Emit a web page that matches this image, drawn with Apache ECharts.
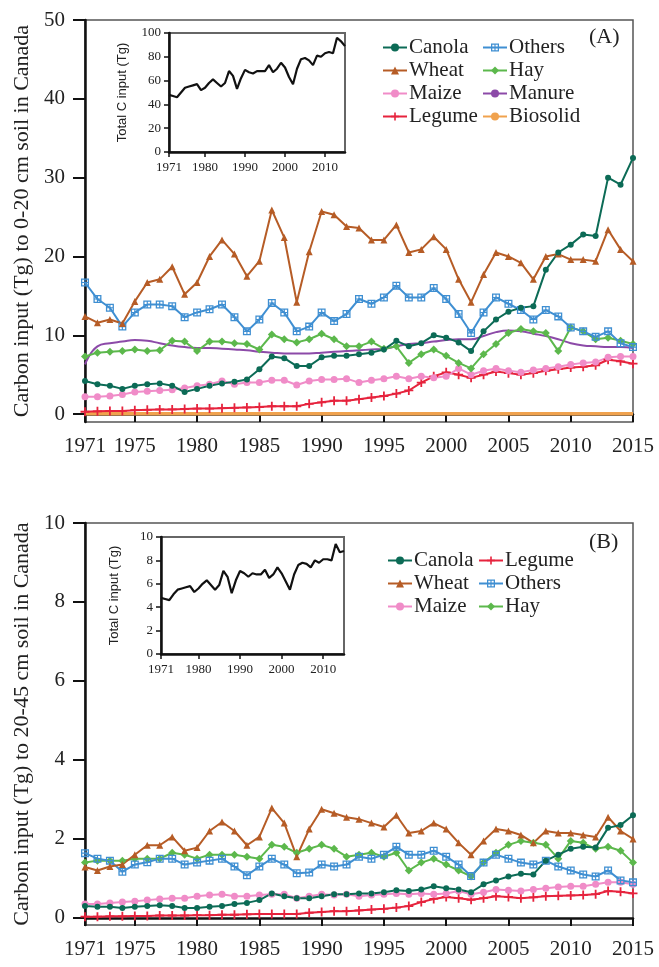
<!DOCTYPE html>
<html>
<head>
<meta charset="utf-8">
<title>Carbon input to Canadian soils</title>
<script src="https://cdn.jsdelivr.net/npm/echarts@6/dist/echarts.min.js"></script>
<style>
  html, body { margin: 0; padding: 0; background: #fff; }
  #chart { width: 659px; height: 967px; }
</style>
</head>
<body>
<div id="chart"></div>
<script>
// Years 1971-2015
const years = [1971,1972,1973,1974,1975,1976,1977,1978,1979,1980,
  1981,1982,1983,1984,1985,1986,1987,1988,1989,1990,
  1991,1992,1993,1994,1995,1996,1997,1998,1999,2000,
  2001,2002,2003,2004,2005,2006,2007,2008,2009,2010,
  2011,2012,2013,2014,2015];

// (A) Carbon input (Tg) to 0-20 cm soil
const canolaA = [4.2,3.8,3.6,3.2,3.6,3.8,3.9,3.6,2.8,3.2,3.6,3.9,4.1,4.4,5.7,7.3,7.1,6.1,6.1,7.2,7.4,7.4,7.6,7.8,8.2,9.3,8.6,9.0,10.0,9.7,9.1,8.0,10.5,12.0,13.0,13.5,13.7,18.3,20.5,21.5,22.8,22.6,30.0,29.1,32.5];
const wheatA = [12.4,11.6,12.0,11.5,14.3,16.7,17.1,18.7,15.2,16.7,20.0,22.1,20.3,17.5,19.4,25.9,22.4,14.2,20.6,25.7,25.3,23.8,23.6,22.1,22.1,24.0,20.5,20.9,22.5,20.9,17.1,14.2,17.7,20.5,20.0,19.2,17.1,20.0,20.3,19.6,19.6,19.4,23.4,20.9,19.4];
const maizeA = [2.2,2.2,2.3,2.5,2.8,2.9,3.0,3.1,3.3,3.6,3.8,4.2,3.8,4.0,4.0,4.3,4.3,3.7,4.2,4.4,4.4,4.5,4.0,4.3,4.5,4.8,4.5,4.8,4.6,4.8,5.8,5.0,5.5,5.8,5.5,5.3,5.6,5.8,6.0,6.3,6.5,6.6,7.2,7.3,7.3];
const legumeA = [0.3,0.35,0.4,0.4,0.5,0.55,0.6,0.6,0.65,0.7,0.7,0.75,0.8,0.85,0.9,1.0,1.0,1.0,1.3,1.5,1.7,1.7,1.9,2.1,2.3,2.6,3.0,4.0,4.8,5.3,5.0,4.6,5.0,5.4,5.2,5.0,5.2,5.5,5.7,5.9,6.0,6.2,6.9,6.7,6.4];
const othersA = [16.7,14.6,13.5,11.1,12.9,13.9,13.9,13.7,12.3,12.9,13.3,13.9,12.3,10.5,12.0,14.1,12.9,10.5,11.1,12.9,11.8,12.7,14.6,14.0,14.8,16.3,14.8,14.8,16.0,14.6,12.7,10.3,12.9,14.8,14.0,13.2,12.0,13.2,12.4,11.0,10.5,9.8,10.5,9.0,8.5];
const hayA = [7.3,7.8,7.9,8.0,8.2,8.0,8.1,9.3,9.2,8.0,9.2,9.2,9.0,8.9,8.2,10.1,9.5,9.1,9.5,10.2,9.5,8.6,8.6,9.2,8.3,8.6,6.5,7.6,8.2,7.4,6.5,5.8,7.6,8.9,10.3,10.8,10.5,10.3,8.0,11.0,10.5,9.5,9.7,9.3,8.9];
const manureA = [6.3,8.6,9.0,9.2,9.4,9.3,9.0,8.7,8.5,8.4,8.4,8.3,8.2,8.1,7.9,7.8,7.7,7.7,7.7,7.8,7.9,8.0,8.1,8.2,8.3,8.6,8.9,9.0,9.2,9.4,9.5,9.5,9.9,10.4,10.6,10.5,10.2,9.9,9.5,9.0,8.7,8.6,8.5,8.5,8.4];
const biosolidA = [0.05,0.05,0.05,0.05,0.05,0.05,0.05,0.05,0.05,0.05,0.05,0.05,0.05,0.05,0.05,0.05,0.05,0.05,0.05,0.05,0.05,0.05,0.05,0.05,0.05,0.05,0.05,0.05,0.05,0.05,0.05,0.05,0.05,0.05,0.05,0.05,0.05,0.05,0.05,0.05,0.05,0.05,0.05,0.05,0.05];
const totalA = [48,47,46,50,54,55,56,57,52,54,58,61,58,55,58,68,64,53,62,69,67,66,68,68,68,73,67,70,75,71,63,57,70,78,79,77,73,81,80,83,84,83,96,93,89];

// (B) Carbon input (Tg) to 20-45 cm soil
const canolaB = [0.3,0.28,0.28,0.25,0.28,0.3,0.32,0.3,0.25,0.25,0.28,0.3,0.35,0.38,0.45,0.62,0.55,0.5,0.5,0.55,0.6,0.6,0.62,0.62,0.65,0.7,0.68,0.72,0.8,0.75,0.72,0.65,0.85,0.95,1.05,1.12,1.1,1.45,1.6,1.75,1.8,1.78,2.28,2.35,2.6];
const wheatB = [1.29,1.2,1.3,1.35,1.6,1.84,1.84,2.05,1.7,1.78,2.2,2.43,2.2,1.84,2.05,2.78,2.4,1.55,2.25,2.75,2.65,2.55,2.5,2.4,2.3,2.6,2.15,2.2,2.4,2.25,1.9,1.6,1.95,2.25,2.2,2.1,1.9,2.2,2.15,2.15,2.1,2.05,2.55,2.2,2.0];
const maizeB = [0.35,0.35,0.38,0.4,0.42,0.45,0.48,0.5,0.5,0.55,0.58,0.6,0.55,0.55,0.58,0.6,0.6,0.5,0.55,0.6,0.58,0.6,0.55,0.58,0.6,0.62,0.6,0.62,0.6,0.62,0.68,0.6,0.65,0.72,0.7,0.68,0.72,0.75,0.78,0.8,0.8,0.85,0.9,0.9,0.85];
const legumeB = [0.03,0.03,0.04,0.04,0.05,0.05,0.06,0.06,0.06,0.07,0.07,0.08,0.08,0.09,0.1,0.1,0.1,0.1,0.13,0.15,0.17,0.17,0.19,0.21,0.23,0.26,0.3,0.4,0.48,0.53,0.5,0.46,0.5,0.55,0.53,0.5,0.52,0.55,0.56,0.57,0.58,0.6,0.68,0.66,0.62];
const othersB = [1.64,1.5,1.45,1.17,1.35,1.41,1.5,1.5,1.35,1.4,1.45,1.5,1.3,1.08,1.3,1.5,1.35,1.13,1.15,1.35,1.3,1.35,1.55,1.5,1.6,1.8,1.6,1.6,1.7,1.55,1.35,1.06,1.4,1.6,1.5,1.4,1.35,1.45,1.3,1.2,1.1,1.05,1.2,0.95,0.9];
const hayB = [1.4,1.45,1.45,1.45,1.5,1.5,1.5,1.65,1.6,1.5,1.6,1.6,1.6,1.55,1.5,1.85,1.8,1.65,1.75,1.85,1.75,1.55,1.6,1.65,1.55,1.65,1.2,1.4,1.5,1.35,1.2,1.05,1.4,1.65,1.85,1.95,1.9,1.85,1.5,1.95,1.9,1.75,1.8,1.7,1.4];
const totalB = [4.8,4.7,4.6,5.1,5.5,5.6,5.7,5.8,5.3,5.6,6.0,6.3,5.9,5.5,5.9,7.1,6.6,5.2,6.3,7.1,6.9,6.6,6.9,6.8,6.8,7.2,6.5,6.8,7.4,6.9,6.2,5.5,6.8,7.6,7.8,7.7,7.4,8.0,7.8,8.1,8.1,8.0,9.4,8.7,8.8];

// Tick labels
const mainYearTicks = [1971,1975,1980,1985,1990,1995,2000,2005,2010,2015];
const insetYearTicks = [1971,1980,1990,2000,2010];
const yTicksA = [0,10,20,30,40,50];
const yTicksB = [0,2,4,6,8,10];
const insetTicksA = [0,20,40,60,80,100];
const insetTicksB = [0,2,4,6,8,10];

const SERIF = 'Liberation Serif';
const SANS = 'Liberation Sans';
const INK = '#222';

const pair = (vals) => years.map((y, i) => [y, vals[i]]);
const plainNumber = (v) => String(v);

// marker shapes
const PLUS = 'path://M4,0H6V4H10V6H6V10H4V6H0V4H4Z';
const BOXCROSS = 'path://M0,0H10V10H0Z M1.6,1.6V4.3H4.3V1.6Z M5.7,1.6V4.3H8.4V1.6Z M1.6,5.7V8.4H4.3V5.7Z M5.7,5.7V8.4H8.4V5.7Z';

const styles = {
  Canola:   { color: '#0c6b56', symbol: 'circle', size: 6 },
  Wheat:    { color: '#b65c26', symbol: 'triangle', size: 7 },
  Maize:    { color: '#f08cc8', symbol: 'circle', size: 7 },
  Legume:   { color: '#e6233d', symbol: PLUS, size: 9 },
  Others:   { color: '#3f8fd2', symbol: BOXCROSS, size: 8 },
  Hay:      { color: '#5cb84c', symbol: 'diamond', size: 8 },
  Manure:   { color: '#8c4aa8', symbol: 'none', size: 0, smooth: true },
  Biosolid: { color: '#f0a24e', symbol: 'none', size: 0, width: 3.5 }
};

function lineSeries(name, vals, gi) {
  const s = styles[name];
  return {
    name, type: 'line', xAxisIndex: gi, yAxisIndex: gi,
    data: pair(vals),
    symbol: s.symbol, symbolSize: s.size, showSymbol: s.symbol !== 'none',
    smooth: !!s.smooth,
    lineStyle: { color: s.color, width: s.width || 2 },
    itemStyle: { color: s.color },
    animation: false, silent: true
  };
}

function totalSeries(vals, gi) {
  return {
    name: 'Total', type: 'line', xAxisIndex: gi, yAxisIndex: gi,
    data: pair(vals), symbol: 'none',
    lineStyle: { color: '#111', width: 2.2 }, animation: false, silent: true
  };
}

function mainX(gi) {
  return {
    gridIndex: gi, type: 'value', min: 1971, max: 2015,
    axisLine: { lineStyle: { color: '#111', width: 2.5 } },
    axisTick: { customValues: mainYearTicks, length: 8, lineStyle: { color: '#111', width: 2 } },
    axisLabel: { customValues: mainYearTicks, formatter: plainNumber, margin: 14, fontFamily: SERIF, fontSize: 21, color: INK },
    splitLine: { show: false }
  };
}

function mainY(gi, min, max, ticks, title) {
  return {
    gridIndex: gi, type: 'value', min, max,
    name: title, nameLocation: 'middle', nameGap: 52,
    nameTextStyle: { fontFamily: SERIF, fontSize: 22, color: INK },
    axisLine: { show: true, lineStyle: { color: '#111', width: 2.5 } },
    axisTick: { show: true, customValues: ticks, length: 12, lineStyle: { color: '#111', width: 2 } },
    axisLabel: { customValues: ticks, formatter: plainNumber, margin: 20, fontFamily: SERIF, fontSize: 21, color: INK },
    splitLine: { show: false }
  };
}

function insetX(gi) {
  return {
    gridIndex: gi, type: 'value', min: 1971, max: 2015,
    axisLine: { lineStyle: { color: '#111', width: 2.5 } },
    axisTick: { customValues: insetYearTicks, length: 5, lineStyle: { color: '#111', width: 1.5 } },
    axisLabel: { customValues: insetYearTicks, formatter: plainNumber, margin: 9, fontFamily: SERIF, fontSize: 13, color: INK },
    splitLine: { show: false }
  };
}

function insetY(gi, max, ticks) {
  return {
    gridIndex: gi, type: 'value', min: 0, max,
    name: 'Total C input (Tg)', nameLocation: 'middle', nameGap: 40,
    nameTextStyle: { fontFamily: SANS, fontSize: 13, color: INK },
    axisLine: { show: true, lineStyle: { color: '#111', width: 2.5 } },
    axisTick: { show: true, customValues: ticks, length: 5, lineStyle: { color: '#111', width: 1.5 } },
    axisLabel: { customValues: ticks, formatter: plainNumber, margin: 8, fontFamily: SERIF, fontSize: 13, color: INK },
    splitLine: { show: false }
  };
}

function legendCol(names, left, top) {
  return {
    data: names, orient: 'vertical', left, top,
    itemWidth: 24, itemHeight: 10, itemGap: 0, padding: 0,
    textStyle: { fontFamily: SERIF, fontSize: 21, color: INK, lineHeight: 23, padding: [0, 0, 0, -3] },
    selectedMode: false
  };
}

const chart = echarts.init(document.getElementById('chart'), null, { renderer: 'canvas' });

chart.setOption({
  backgroundColor: '#fff',
  animation: false,
  grid: [
    { left: 85, top: 20, width: 548, height: 402, show: true, borderColor: '#555', borderWidth: 1.5, containLabel: false },
    { left: 169, top: 33, width: 176, height: 119, show: true, backgroundColor: '#fff', borderColor: '#666', borderWidth: 2, containLabel: false },
    { left: 85, top: 523, width: 548, height: 402, show: true, borderColor: '#555', borderWidth: 1.5, containLabel: false },
    { left: 161, top: 537, width: 183, height: 117, show: true, backgroundColor: '#fff', borderColor: '#666', borderWidth: 2, containLabel: false }
  ],
  xAxis: [mainX(0), insetX(1), mainX(2), insetX(3)],
  yAxis: [
    mainY(0, -1, 50, yTicksA, 'Carbon input (Tg) to 0-20 cm soil in Canada'),
    insetY(1, 100, insetTicksA),
    mainY(2, -0.18, 10, yTicksB, 'Carbon input (Tg) to 20-45 cm soil in Canada'),
    insetY(3, 10, insetTicksB)
  ],
  legend: [
    legendCol(['Canola', 'Wheat', 'Maize', 'Legume'], 382, 36),
    legendCol(['Others', 'Hay', 'Manure', 'Biosolid'], 482, 36),
    legendCol(['Canola', 'Wheat', 'Maize'], 387, 549),
    legendCol(['Legume', 'Others', 'Hay'], 478, 549)
  ],
  graphic: [
    { type: 'text', left: 589, top: 26, style: { text: '(A)', font: '22px "Liberation Serif"', fill: INK } },
    { type: 'text', left: 589, top: 531, style: { text: '(B)', font: '22px "Liberation Serif"', fill: INK } }
  ],
  series: [
    lineSeries('Biosolid', biosolidA, 0),
    lineSeries('Legume', legumeA, 0),
    lineSeries('Maize', maizeA, 0),
    lineSeries('Manure', manureA, 0),
    lineSeries('Hay', hayA, 0),
    lineSeries('Others', othersA, 0),
    lineSeries('Wheat', wheatA, 0),
    lineSeries('Canola', canolaA, 0),
    totalSeries(totalA, 1),
    lineSeries('Legume', legumeB, 2),
    lineSeries('Maize', maizeB, 2),
    lineSeries('Hay', hayB, 2),
    lineSeries('Others', othersB, 2),
    lineSeries('Wheat', wheatB, 2),
    lineSeries('Canola', canolaB, 2),
    totalSeries(totalB, 3)
  ]
});
</script>
</body>
</html>
